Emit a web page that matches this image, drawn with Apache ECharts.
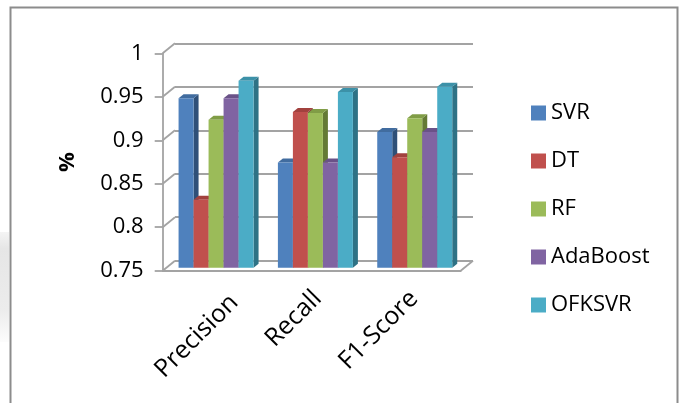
<!DOCTYPE html>
<html>
<head>
<meta charset="utf-8">
<script src="https://cdn.jsdelivr.net/npm/echarts@6/dist/echarts.min.js"></script>
<style>
  html, body { margin: 0; padding: 0; background: #ffffff; }
  #chart { width: 681px; height: 403px; }
</style>
</head>
<body>
<div id="chart"></div>
<script>
// Scores per metric for each model
const categories = ['Precision', 'Recall', 'F1-Score'];
const svr      = [0.945, 0.871, 0.906];
const dt       = [0.828, 0.929, 0.877];
const rf       = [0.920, 0.928, 0.922];
const adaBoost = [0.945, 0.871, 0.906];
const ofksvr   = [0.965, 0.952, 0.958];
const yTicks   = [0.75, 0.8, 0.85, 0.9, 0.95, 1];

const Y_MIN = 0.75, Y_MAX = 1, Y_STEP = 0.05;

// Face colours: front, top, side
const models = [
  { name: 'SVR',      values: svr,      front: '#4F81BD', top: '#416c9f', side: '#2f5078' },
  { name: 'DT',       values: dt,       front: '#C0504D', top: '#a2413e', side: '#7f3331' },
  { name: 'RF',       values: rf,       front: '#9BBB59', top: '#809d46', side: '#647a35' },
  { name: 'AdaBoost', values: adaBoost, front: '#8064A2', top: '#6a5288', side: '#523f69' },
  { name: 'OFKSVR',   values: ofksvr,   front: '#4BACC6', top: '#3c91a8', side: '#2e7285' }
];

// Pseudo-3D geometry (pixels)
const WALL_DX = 12.3, WALL_DY = -10;   // back wall offset from the front plane
const BAR_DX0 = 3.7,  BAR_DY0 = -3;    // front face of the bars
const BAR_DDX = 5,    BAR_DDY = -4;    // bar depth
const BAR_FRAC = 0.151;                // bar width as share of a category band
const LINE = '#a3a3a3';
const LINE_W = 1.8;
const FONT = 'Open Sans';

// Category label placement: nudge per label, distance below the floor
const LABEL_NUDGE = [[22, 4], [6, 0], [3, 0]];
const LABEL_GAP = 24;

function barRenderer(idx, m) {
  return function (params, api) {
    const cat = api.value(0), v = api.value(1);
    const topPt = api.coord([cat, v]);
    const basePt = api.coord([cat, Y_MIN]);
    const bw = api.size([1, 0])[0] * BAR_FRAC;
    const x0 = topPt[0] + (idx - models.length / 2) * bw + BAR_DX0;
    const x1 = x0 + bw;
    const yT = topPt[1] + BAR_DY0, yB = basePt[1] + BAR_DY0;
    return {
      type: 'group',
      children: [
        { type: 'polygon', shape: { points: [[x1, yT], [x1 + BAR_DDX, yT + BAR_DDY], [x1 + BAR_DDX, yB + BAR_DDY], [x1, yB]] },
          style: { fill: m.side } },
        { type: 'polygon', shape: { points: [[x0, yT], [x0 + BAR_DDX, yT + BAR_DDY], [x1 + BAR_DDX, yT + BAR_DDY], [x1, yT]] },
          style: { fill: m.top } },
        { type: 'rect', shape: { x: x0, y: yT, width: bw, height: yB - yT },
          style: { fill: m.front } }
      ]
    };
  };
}

// Side wall and floor edges joining the front plane to the back wall
function wallRenderer(params, api) {
  const v = api.value(1);
  const cs = params.coordSys;
  const y = api.coord([0, v])[1];
  const children = [
    { type: 'line', shape: { x1: cs.x, y1: y, x2: cs.x + WALL_DX, y2: y + WALL_DY },
      style: { stroke: LINE, lineWidth: LINE_W } }
  ];
  if (v === Y_MIN) {
    const xr = cs.x + cs.width;
    children.push({ type: 'line', shape: { x1: xr, y1: y, x2: xr + WALL_DX, y2: y + WALL_DY },
      style: { stroke: LINE, lineWidth: LINE_W } });
  }
  return { type: 'group', children: children };
}

// Slanted category names under the floor
function categoryLabelRenderer(params, api) {
  const c = api.value(0);
  const p = api.coord([c, Y_MIN]);
  return {
    type: 'text',
    x: p[0] + LABEL_NUDGE[c][0],
    y: p[1] + LABEL_GAP + LABEL_NUDGE[c][1],
    rotation: Math.PI / 4,
    style: {
      text: categories[c],
      align: 'right', verticalAlign: 'middle',
      fill: '#000', fontFamily: FONT, fontSize: 25
    }
  };
}

const FRONT = { left: 162.7, top: 53.3, right: 681 - 460.7, bottom: 403 - 270.7 };
const BACK = {
  left: FRONT.left + WALL_DX, top: FRONT.top + WALL_DY,
  right: FRONT.right - WALL_DX, bottom: FRONT.bottom - WALL_DY
};

const series = [
  {
    type: 'custom', name: 'wall', xAxisIndex: 0, yAxisIndex: 0, z: 1,
    renderItem: wallRenderer, silent: true,
    data: yTicks.map(v => [0, v])
  },
  {
    type: 'custom', name: 'categoryLabels', xAxisIndex: 0, yAxisIndex: 0, z: 4,
    renderItem: categoryLabelRenderer, silent: true,
    data: categories.map((name, c) => [c, Y_MIN])
  }
].concat(models.map((m, i) => ({
  type: 'custom', name: m.name, xAxisIndex: 0, yAxisIndex: 0, z: 3,
  itemStyle: { color: m.front },
  renderItem: barRenderer(i, m),
  encode: { x: 0, y: 1 },
  data: m.values.map((v, c) => [c, v])
})));

const option = {
  animation: false,
  backgroundColor: '#ffffff',
  grid: [
    Object.assign({ containLabel: false }, FRONT),
    Object.assign({ containLabel: false }, BACK)
  ],
  xAxis: [
    {
      type: 'category', gridIndex: 0, data: categories,
      axisLine: { show: true, lineStyle: { color: LINE, width: LINE_W } },
      axisTick: { show: false },
      axisLabel: { show: false },
      splitLine: { show: false }
    },
    {
      type: 'category', gridIndex: 1, data: categories, show: false
    }
  ],
  yAxis: [
    {
      type: 'value', gridIndex: 0, min: Y_MIN, max: Y_MAX, interval: Y_STEP,
      name: '%', nameLocation: 'middle', nameRotate: 90, nameGap: 84,
      nameTextStyle: { color: '#000', fontFamily: FONT, fontSize: 22, fontWeight: 'bold' },
      axisLine: { show: true, lineStyle: { color: LINE, width: LINE_W } },
      axisTick: { show: true, length: 8, lineStyle: { color: LINE, width: LINE_W } },
      axisLabel: { margin: 19, color: '#000', fontFamily: FONT, fontSize: 22 },
      splitLine: { show: false }
    },
    {
      type: 'value', gridIndex: 1, min: Y_MIN, max: Y_MAX, interval: Y_STEP,
      axisLine: { show: false }, axisTick: { show: false }, axisLabel: { show: false },
      splitLine: { show: true, lineStyle: { color: LINE, width: LINE_W } }
    }
  ],
  legend: {
    orient: 'vertical', left: 526, top: 97,
    itemWidth: 15, itemHeight: 15, itemGap: 26,
    icon: 'rect',
    data: models.map(m => m.name),
    textStyle: { color: '#000', fontFamily: FONT, fontSize: 22 }
  },
  graphic: [
    { type: 'rect', silent: true, shape: { x: 0, y: 232, width: 9, height: 110 },
      style: { fill: new echarts.graphic.LinearGradient(0, 0, 0, 1, [
        { offset: 0, color: '#f4f4f4' },
        { offset: 0.15, color: '#e6e6e6' },
        { offset: 0.7, color: '#ececec' },
        { offset: 1, color: '#fcfcfc' }
      ]) } },
    { type: 'polyline', silent: true,
      shape: { points: [[10.5, 403], [10.5, 7.5], [677.5, 7.5], [677.5, 403]] },
      style: { stroke: '#8c8c8c', lineWidth: 2, fill: null } }
  ],
  series: series
};

const chart = echarts.init(document.getElementById('chart'), null, { renderer: 'canvas' });
chart.setOption(option);
</script>
</body>
</html>
